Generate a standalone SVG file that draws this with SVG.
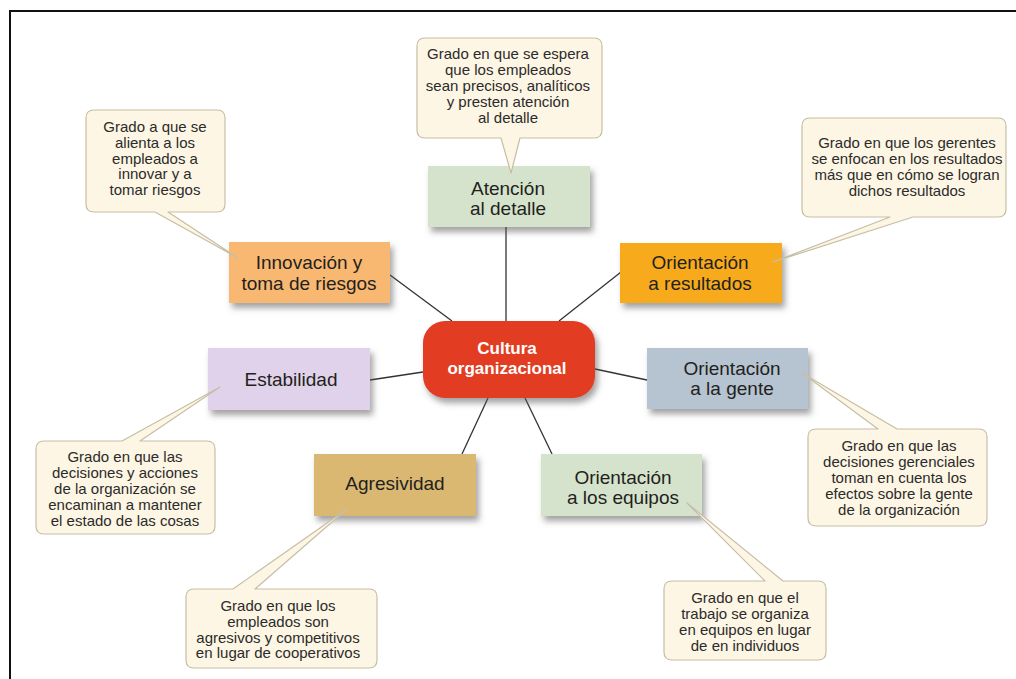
<svg xmlns="http://www.w3.org/2000/svg" width="1016" height="679" viewBox="0 0 1016 679">
<defs>
<filter id="sh" x="-20%" y="-20%" width="140%" height="150%">
<feDropShadow dx="3" dy="5" stdDeviation="3" flood-color="#555" flood-opacity="0.55"/>
</filter>
<style>
.node{stroke:none;filter:url(#sh)}
.lbl{font-family:"Liberation Sans",Arial,sans-serif;font-size:19px;fill:#231f20;text-anchor:middle}
.ctr{font-family:"Liberation Sans",Arial,sans-serif;font-size:17px;font-weight:bold;fill:#ffffff;text-anchor:middle}
.co{fill:#fdf6e4;stroke:#c6bea6;stroke-width:1.2;stroke-linejoin:round}
.ct{font-family:"Liberation Sans",Arial,sans-serif;font-size:15px;fill:#2b2b2b;text-anchor:middle}
.cn{stroke:#333;stroke-width:1.3;fill:none}
</style>
</defs>
<rect width="1016" height="679" fill="#ffffff"/>
<path d="M10,679 V11 H1016" fill="none" stroke="#111" stroke-width="2"/>

<g id="connectors">
<line class="cn" x1="390" y1="275" x2="452" y2="321"/>
<line class="cn" x1="506" y1="227" x2="506" y2="321"/>
<line class="cn" x1="559" y1="321" x2="621" y2="272"/>
<line class="cn" x1="370" y1="380" x2="423" y2="372"/>
<line class="cn" x1="595" y1="369" x2="647" y2="380"/>
<line class="cn" x1="488" y1="398" x2="462" y2="454"/>
<line class="cn" x1="525" y1="398" x2="552" y2="454"/>
</g>

<g id="center">
<rect class="node" x="423" y="321" width="172" height="77" rx="22" fill="#e23c21"/>
<text class="ctr" x="507" y="354">Cultura</text>
<text class="ctr" x="507" y="374">organizacional</text>
</g>

<g id="innovacion">
<rect class="node" x="229" y="242" width="161" height="61" fill="#f9b872"/>
<text class="lbl" x="309" y="269">Innovación y</text>
<text class="lbl" x="309" y="290">toma de riesgos</text>
</g>

<g id="atencion">
<rect class="node" x="428" y="166" width="162" height="61" fill="#d5e3cc"/>
<text class="lbl" x="508" y="195">Atención</text>
<text class="lbl" x="508" y="215">al detalle</text>
</g>

<g id="resultados">
<rect class="node" x="620" y="243" width="162" height="60" fill="#f7ab1c"/>
<text class="lbl" x="700" y="269">Orientación</text>
<text class="lbl" x="700" y="290">a resultados</text>
</g>

<g id="estabilidad">
<rect class="node" x="208" y="348" width="162" height="62" fill="#dfd2ea"/>
<text class="lbl" x="291" y="386">Estabilidad</text>
</g>

<g id="gente">
<rect class="node" x="647" y="348" width="161" height="61" fill="#b6c3d1"/>
<text class="lbl" x="732" y="375">Orientación</text>
<text class="lbl" x="732" y="395">a la gente</text>
</g>

<g id="agresividad">
<rect class="node" x="314" y="454" width="162" height="62" fill="#dab872"/>
<text class="lbl" x="395" y="490">Agresividad</text>
</g>

<g id="equipos">
<rect class="node" x="541" y="454" width="161" height="62" fill="#d5e3cc"/>
<text class="lbl" x="623" y="484">Orientación</text>
<text class="lbl" x="623" y="504">a los equipos</text>
</g>

<g id="callout-innovacion">
<path class="co" d="M94,110 H217 Q225,110 225,118 V204 Q225,212 217,212 H168 L238,258 L155,212 H94 Q86,212 86,204 V118 Q86,110 94,110 Z"/>
<text class="ct" x="155" y="132">Grado a que se</text>
<text class="ct" x="155" y="148">alienta a los</text>
<text class="ct" x="155" y="164">empleados a</text>
<text class="ct" x="155" y="179">innovar y a</text>
<text class="ct" x="155" y="195">tomar riesgos</text>
</g>

<g id="callout-atencion">
<path class="co" d="M425,38 H594 Q602,38 602,46 V130 Q602,138 594,138 H520 L511,173 L501,138 H425 Q417,138 417,130 V46 Q417,38 425,38 Z"/>
<text class="ct" x="508" y="59">Grado en que se espera</text>
<text class="ct" x="508" y="75">que los empleados</text>
<text class="ct" x="508" y="91">sean precisos, analíticos</text>
<text class="ct" x="508" y="107">y presten atención</text>
<text class="ct" x="508" y="123">al detalle</text>
</g>

<g id="callout-resultados">
<path class="co" d="M810,118 H998 Q1006,118 1006,126 V209 Q1006,217 998,217 H913 L773,262 L890,217 H810 Q802,217 802,209 V126 Q802,118 810,118 Z"/>
<text class="ct" x="907" y="148">Grado en que los gerentes</text>
<text class="ct" x="907" y="164">se enfocan en los resultados</text>
<text class="ct" x="907" y="180">más que en cómo se logran</text>
<text class="ct" x="907" y="196">dichos resultados</text>
</g>

<g id="callout-estabilidad">
<path class="co" d="M44,441 H122 L220,387 L140,441 H207 Q215,441 215,449 V526 Q215,534 207,534 H44 Q36,534 36,526 V449 Q36,441 44,441 Z"/>
<text class="ct" x="125" y="462">Grado en que las</text>
<text class="ct" x="125" y="478">decisiones y acciones</text>
<text class="ct" x="125" y="494">de la organización se</text>
<text class="ct" x="125" y="510">encaminan a mantener</text>
<text class="ct" x="125" y="526">el estado de las cosas</text>
</g>

<g id="callout-agresividad">
<path class="co" d="M194,589 H233 L347,509 L255,589 H369 Q377,589 377,597 V660 Q377,668 369,668 H194 Q186,668 186,660 V597 Q186,589 194,589 Z"/>
<text class="ct" x="278" y="611">Grado en que los</text>
<text class="ct" x="278" y="627">empleados son</text>
<text class="ct" x="278" y="643">agresivos y competitivos</text>
<text class="ct" x="278" y="658">en lugar de cooperativos</text>
</g>

<g id="callout-gente">
<path class="co" d="M816,429 H878 L802,373 L897,429 H979 Q987,429 987,437 V518 Q987,526 979,526 H816 Q808,526 808,518 V437 Q808,429 816,429 Z"/>
<text class="ct" x="899" y="451">Grado en que las</text>
<text class="ct" x="899" y="467">decisiones gerenciales</text>
<text class="ct" x="899" y="483">toman en cuenta los</text>
<text class="ct" x="899" y="499">efectos sobre la gente</text>
<text class="ct" x="899" y="515">de la organización</text>
</g>

<g id="callout-equipos">
<path class="co" d="M672,581 H765 L687,503 L783,581 H818 Q826,581 826,589 V652 Q826,660 818,660 H672 Q664,660 664,652 V589 Q664,581 672,581 Z"/>
<text class="ct" x="745" y="603">Grado en que el</text>
<text class="ct" x="745" y="619">trabajo se organiza</text>
<text class="ct" x="745" y="635">en equipos en lugar</text>
<text class="ct" x="745" y="651">de en individuos</text>
</g>
</svg>
